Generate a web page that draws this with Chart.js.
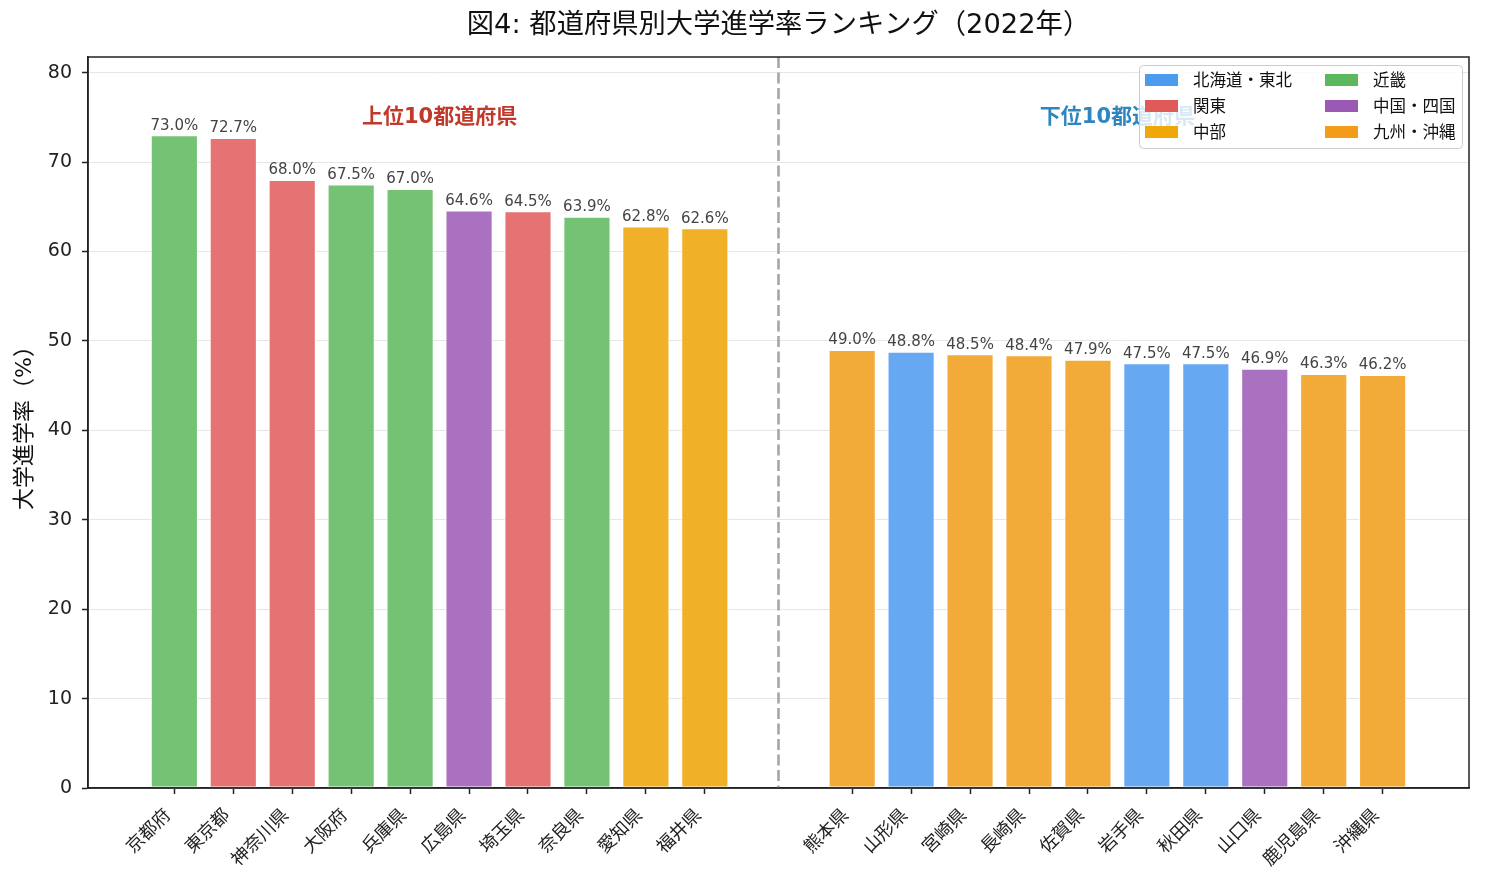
<!DOCTYPE html>
<html><head><meta charset="utf-8">
<script src="https://cdn.jsdelivr.net/npm/chart.js@4.4.1/dist/chart.umd.min.js"></script>
<style>html,body{margin:0;padding:0;background:#fff}#wrap{width:1485px;height:885px}</style>
</head><body><div id="wrap"><canvas id="c" width="1485" height="885"></canvas></div>
<script>
const FONT = '"DejaVu Sans", "Noto Sans CJK JP", sans-serif';
const titleText = '図4: 都道府県別大学進学率ランキング（2022年）';
const yAxisTitle = '大学進学率（%）';
const topLabel = '上位10都道府県';
const bottomLabel = '下位10都道府県';

const topNames = ['京都府','東京都','神奈川県','大阪府','兵庫県','広島県','埼玉県','奈良県','愛知県','福井県'];
const topValues = [73.0, 72.7, 68.0, 67.5, 67.0, 64.6, 64.5, 63.9, 62.8, 62.6];
const topRegions = ['近畿','関東','関東','近畿','近畿','中国・四国','関東','近畿','中部','中部'];

const bottomNames = ['熊本県','山形県','宮崎県','長崎県','佐賀県','岩手県','秋田県','山口県','鹿児島県','沖縄県'];
const bottomValues = [49.0, 48.8, 48.5, 48.4, 47.9, 47.5, 47.5, 46.9, 46.3, 46.2];
const bottomRegions = ['九州・沖縄','北海道・東北','九州・沖縄','九州・沖縄','九州・沖縄','北海道・東北','北海道・東北','中国・四国','九州・沖縄','九州・沖縄'];

const regionOrder = ['北海道・東北','関東','中部','近畿','中国・四国','九州・沖縄'];
const regionColors = {'北海道・東北':'#4c9bef','関東':'#e05a5a','中部':'#f0a808','近畿':'#5cb85c','中国・四国':'#9b59b6','九州・沖縄':'#f39c1a'};
const barColors = {'北海道・東北':'#66a8f2','関東':'#e57373','中部':'#f0b028','近畿':'#74c375','中国・四国':'#ab71c1','九州・沖縄':'#f2aa38'};

const yTicks = [0,10,20,30,40,50,60,70,80];

// positions: top group 0..n-1, bottom group after a gap of 1.5 slots
const topPos = topNames.map((_, i) => i);
const bottomPos = bottomNames.map((_, i) => topNames.length + 1.5 + i);
const allPos = topPos.concat(bottomPos);
const allNames = topNames.concat(bottomNames);
const allValues = topValues.concat(bottomValues);
const allRegions = topRegions.concat(bottomRegions);
const dividerX = (topPos[topPos.length-1] + bottomPos[0]) / 2;
const topCenter = (topPos[0] + topPos[topPos.length-1]) / 2;
const bottomCenter = (bottomPos[0] + bottomPos[bottomPos.length-1]) / 2;
const maxV = Math.max(...allValues);
const span = allPos[allPos.length-1] + 0.8;
const xMin = -0.4 - 0.05 * span;
const xMax = allPos[allPos.length-1] + 0.4 + 0.05 * span;

const overlay = {
  id: 'overlay',
  afterDatasetsDraw(chart) {
    const {ctx, chartArea: a, scales: {x, y}} = chart;
    ctx.save();
    ctx.font = '15px ' + FONT;
    ctx.fillStyle = '#444';
    ctx.textAlign = 'center';
    ctx.textBaseline = 'bottom';
    allValues.forEach((v, i) => {
      ctx.fillText(v.toFixed(1) + '%', x.getPixelForValue(allPos[i]), y.getPixelForValue(v) - 2);
    });
    ctx.font = 'bold 21px ' + FONT;
    ctx.textBaseline = 'middle';
    ctx.fillStyle = '#c0392b';
    ctx.fillText(topLabel, x.getPixelForValue(topCenter), y.getPixelForValue(75));
    ctx.fillStyle = '#2e86c1';
    ctx.fillText(bottomLabel, x.getPixelForValue(bottomCenter), y.getPixelForValue(75));
    ctx.strokeStyle = '#a6a6a6';
    ctx.lineWidth = 2.6;
    ctx.setLineDash([11, 4.5]);
    const dx = x.getPixelForValue(dividerX);
    ctx.beginPath(); ctx.moveTo(dx, a.top); ctx.lineTo(dx, a.bottom); ctx.stroke();
    ctx.setLineDash([]);
    ctx.strokeStyle = '#222';
    ctx.lineWidth = 1.5;
    ctx.strokeRect(a.left, a.top, a.right - a.left, a.bottom - a.top);
    ctx.restore();
  },
  afterDraw(chart) {
    const {ctx, chartArea: a} = chart;
    ctx.save();
    ctx.font = '27.3px ' + FONT;
    ctx.fillStyle = '#111';
    ctx.textAlign = 'center';
    ctx.textBaseline = 'middle';
    ctx.fillText(titleText, (a.left + a.right) / 2, 26);
    const bx = a.right - 330, by = a.top + 8, bw = 323, bh = 83;
    ctx.fillStyle = 'rgba(255,255,255,0.82)';
    ctx.strokeStyle = '#cccccc';
    ctx.lineWidth = 1;
    ctx.beginPath();
    ctx.roundRect(bx + 0.5, by + 0.5, bw, bh, 4);
    ctx.fill(); ctx.stroke();
    ctx.font = '16.5px ' + FONT;
    ctx.textAlign = 'left';
    ctx.textBaseline = 'middle';
    regionOrder.forEach((r, i) => {
      const col = Math.floor(i / 3), row = i % 3;
      const sx = bx + 6 + col * 180;
      const cy = by + 15 + row * 26;
      ctx.fillStyle = regionColors[r];
      ctx.fillRect(sx, cy - 6, 33, 12);
      ctx.fillStyle = '#111';
      ctx.fillText(r, sx + 48, cy + 2);
    });
    ctx.restore();
  }
};

new Chart(document.getElementById('c'), {
  type: 'bar',
  data: {
    datasets: [{
      data: allPos.map((p, i) => ({x: p, y: allValues[i]})),
      backgroundColor: allRegions.map(r => barColors[r]),
      borderColor: '#ffffff',
      borderWidth: 1,
      borderSkipped: false,
      barPercentage: 0.8,
      categoryPercentage: 1.0
    }]
  },
  options: {
    responsive: false,
    animation: false,
    devicePixelRatio: 1,
    layout: {padding: {top: 57, right: 16, left: 0, bottom: 0}},
    plugins: {legend: {display: false}, tooltip: {enabled: false}, title: {display: false}},
    scales: {
      x: {
        type: 'linear',
        min: xMin, max: xMax,
        offset: false,
        afterBuildTicks(scale) { scale.ticks = allPos.map(v => ({value: v})); },
        afterFit(scale) { scale.height = 97; },
        grid: {offset: false, drawOnChartArea: false, drawTicks: true, tickLength: 6, tickColor: '#222', tickWidth: 1.5},
        border: {display: true, color: '#222', width: 1.5},
        ticks: {
          autoSkip: false, minRotation: 45, maxRotation: 45, padding: 11, labelOffset: -6,
          color: '#222', font: {family: FONT, size: 18},
          callback: (v, i) => allNames[i]
        }
      },
      y: {
        min: 0, max: maxV * 1.12,
        afterBuildTicks(scale) { scale.ticks = yTicks.map(v => ({value: v})); },
        afterFit(scale) { scale.width = 88; },
        grid: {color: '#e6e6e6', lineWidth: 1, drawTicks: true, tickLength: 6, tickColor: '#222', tickWidth: 1.5},
        border: {display: true, color: '#222', width: 1.5},
        ticks: {color: '#222', font: {family: FONT, size: 19}, padding: 10, callback: v => String(v)},
        title: {display: true, text: yAxisTitle, color: '#111', font: {family: FONT, size: 22}, padding: {top: 12, bottom: 0}}
      }
    }
  },
  plugins: [overlay]
});
</script>
</body></html>
